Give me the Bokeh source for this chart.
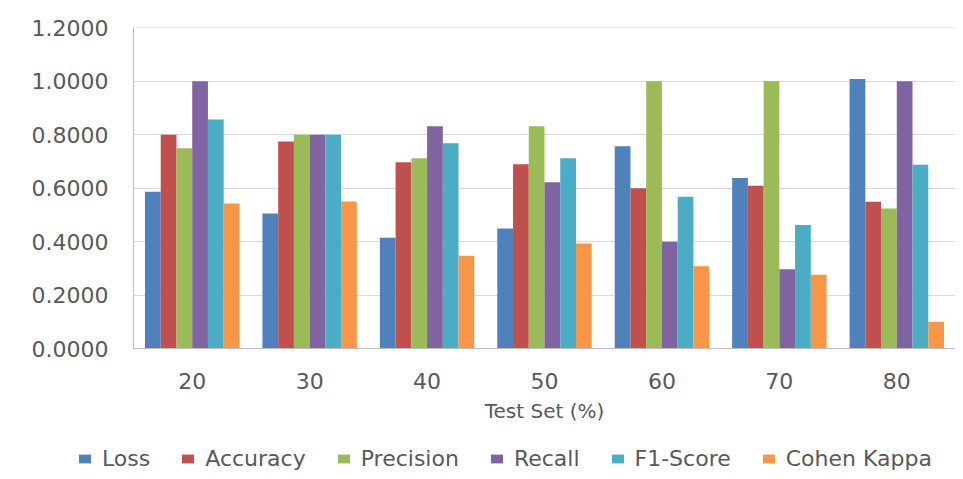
from bokeh.plotting import figure
from bokeh.layouts import column, row
from bokeh.models import ColumnDataSource, FactorRange, Legend, LegendItem, NumeralTickFormatter, FixedTicker
from bokeh.transform import dodge
from bokeh.embed import file_html
from bokeh.resources import INLINE

test_sets = ["20", "30", "40", "50", "60", "70", "80"]
loss      = [0.587, 0.505, 0.415, 0.449, 0.757, 0.638, 1.009]
accuracy  = [0.800, 0.775, 0.697, 0.690, 0.600, 0.609, 0.549]
precision = [0.750, 0.800, 0.712, 0.832, 1.000, 1.000, 0.524]
recall    = [1.000, 0.800, 0.832, 0.622, 0.400, 0.297, 1.000]
f1_score  = [0.857, 0.800, 0.768, 0.712, 0.568, 0.462, 0.688]
kappa     = [0.543, 0.550, 0.347, 0.393, 0.308, 0.276, 0.100]

series_names = ["Loss", "Accuracy", "Precision", "Recall", "F1-Score", "Cohen Kappa"]
series_keys = ["loss", "accuracy", "precision", "recall", "f1", "kappa"]
colors = ["#4F81BD", "#C0504D", "#9BBB59", "#8064A2", "#4BACC6", "#F79646"]
y_ticks = [0.0, 0.2, 0.4, 0.6, 0.8, 1.0, 1.2]

source = ColumnDataSource(data=dict(cat=test_sets, loss=loss, accuracy=accuracy,
                                    precision=precision, recall=recall, f1=f1_score, kappa=kappa))

FONT = "DejaVu Sans"
TXT = "#595959"

p = figure(width=955, height=426, x_range=FactorRange(factors=test_sets, range_padding=0),
           y_range=(0, 1.2015), output_backend="svg", toolbar_location=None,
           min_border_left=133, min_border_right=0, min_border_top=27, min_border_bottom=78)
p.outline_line_color = None

bw = 0.134
offsets = [-0.335, -0.201, -0.067, 0.067, 0.201, 0.335]
for key, col, off in zip(series_keys, colors, offsets):
    p.vbar(x=dodge("cat", off, range=p.x_range), top=key, width=bw, source=source,
           fill_color=col, line_color=None)

p.yaxis.ticker = FixedTicker(ticks=y_ticks)
p.yaxis.formatter = NumeralTickFormatter(format="0.0000")
p.yaxis.major_label_text_font = FONT
p.yaxis.major_label_text_font_size = "22px"
p.yaxis.major_label_text_color = TXT
p.yaxis.major_tick_line_color = None
p.yaxis.major_tick_out = 0
p.yaxis.major_tick_in = 0
p.yaxis.minor_tick_line_color = None
p.yaxis.axis_line_color = "#BFBFBF"
p.yaxis.major_label_standoff = 25

p.xaxis.major_label_text_font = FONT
p.xaxis.major_label_text_font_size = "22px"
p.xaxis.major_label_text_color = TXT
p.xaxis.major_tick_line_color = None
p.xaxis.major_tick_out = 0
p.xaxis.major_tick_in = 0
p.xaxis.axis_line_color = "#BFBFBF"
p.xaxis.major_label_standoff = 24
p.xaxis.axis_label = "Test Set (%)"
p.xaxis.axis_label_text_font = FONT
p.xaxis.axis_label_text_font_size = "20px"
p.xaxis.axis_label_text_font_style = "normal"
p.xaxis.axis_label_text_color = TXT
p.xaxis.axis_label_standoff = 7

p.xgrid.grid_line_color = None
p.ygrid.grid_line_color = "#D9D9D9"
p.ygrid.ticker = FixedTicker(ticks=y_ticks)

# legend strip (its bars lie outside its visible y range; only the legend shows)
lf = figure(width=955, height=45, x_range=p.x_range, y_range=(2, 3), output_backend="svg",
            toolbar_location=None, x_axis_type=None, y_axis_type=None,
            min_border_left=0, min_border_right=0, min_border_top=0, min_border_bottom=0)
lf.outline_line_color = None
lf.xgrid.visible = False
lf.ygrid.visible = False
items = []
for key, name, col, off in zip(series_keys, series_names, colors, offsets):
    r = lf.vbar(x=dodge("cat", off, range=p.x_range), top=key, width=bw, source=source,
                fill_color=col, line_color=None)
    items.append(LegendItem(label=name, renderers=[r]))

legend = Legend(items=items, orientation="horizontal", location=(77, 0),
                label_text_font=FONT, label_text_font_size="22px", label_text_color=TXT,
                glyph_width=15, glyph_height=11, label_standoff=10, spacing=30,
                padding=0, margin=0, border_line_color=None, background_fill_alpha=0)
lf.add_layout(legend, "center")

layout = column(p, row(lf), spacing=0)
open("out.html", "w").write(file_html(layout, INLINE))
